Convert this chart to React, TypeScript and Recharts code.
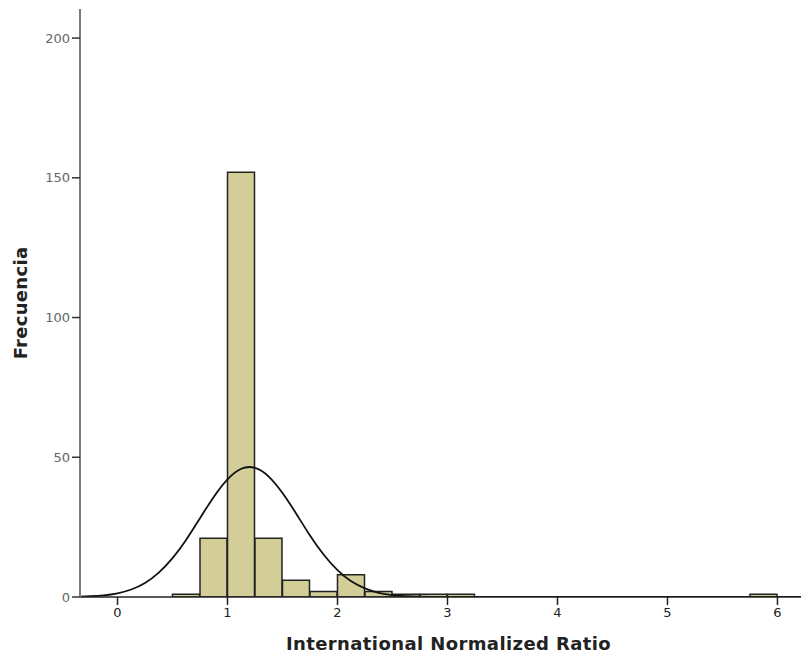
import { ComposedChart, Bar, Line, XAxis, YAxis } from "recharts";

// histogram bins (INR, width 0.25) and their counts
const binStart = [0.5, 0.75, 1.0, 1.25, 1.5, 1.75, 2.0, 2.25, 2.5, 2.75, 3.0, 5.75];
const binCount = [1, 21, 152, 21, 6, 2, 8, 2, 1, 1, 1, 1];
const binWidth = 0.25;

// fitted normal curve
const curveX = [
  -0.375, -0.25, -0.125, 0, 0.125, 0.25, 0.375, 0.5, 0.625, 0.75, 0.875, 1.0, 1.125, 1.25,
  1.375, 1.5, 1.625, 1.75, 1.875, 2.0, 2.125, 2.25, 2.375, 2.5, 2.625, 2.75, 3.0, 3.5, 6.25,
];
const curveY = [
  0.1, 0.26, 0.61, 1.33, 2.68, 5.0, 8.7, 13.9, 20.5, 28.2, 35.8, 42.1, 45.9, 46.2,
  43.1, 37.2, 29.8, 22.0, 15.1, 9.6, 5.6, 3.1, 1.5, 0.7, 0.3, 0.12, 0.02, 0, 0,
];

const xTicks = [0, 1, 2, 3, 4, 5, 6];
const yTicks = [0, 50, 100, 150, 200];

const bins = binStart.map((s, i) => ({ x: s + binWidth / 2, count: binCount[i] }));
const curve = curveX.map((x, i) => ({ x, density: curveY[i] }));

const font = "'DejaVu Sans', Verdana, sans-serif";
const xDomain = [-0.341, 6.214];

export default function App() {
  return (
    <div style={{ position: "absolute", left: 0, top: 0, background: "#fff" }}>
      <ComposedChart
        width={801}
        height={656}
        data={bins}
        margin={{ top: 9, right: 0, bottom: 0, left: 0 }}
        barCategoryGap={0}
        barGap={0}
      >
        <XAxis
          dataKey="x"
          type="number"
          domain={xDomain}
          allowDataOverflow
          ticks={xTicks}
          height={59}
          tickSize={8}
          tickMargin={3}
          axisLine={{ stroke: "#222", strokeWidth: 1.5 }}
          tickLine={{ stroke: "#222", strokeWidth: 1.5 }}
          tick={{ fill: "#222", fontSize: 13, fontFamily: font }}
          label={{
            content: ({ viewBox }: any) => (
              <text
                x={viewBox.x + viewBox.width / 2 + 8}
                y={viewBox.y + 53}
                textAnchor="middle"
                fontFamily={font}
                fontWeight="bold"
                fontSize={18}
                letterSpacing={0.4}
                fill="#222"
              >
                International Normalized Ratio
              </text>
            ),
          }}
        />
        {/* top frame line; also the axis the bars sit on so the band is one bin wide */}
        <XAxis
          xAxisId="top"
          orientation="top"
          type="number"
          dataKey="x"
          domain={xDomain}
          allowDataOverflow
          height={0}
          tick={false}
          tickLine={false}
          axisLine={{ stroke: "#888", strokeWidth: 2 }}
        />
        <YAxis
          type="number"
          domain={[0, 210.4]}
          allowDataOverflow
          ticks={yTicks}
          width={80}
          tickSize={8}
          tickMargin={2}
          axisLine={{ stroke: "#7a7a7a", strokeWidth: 2 }}
          tickLine={{ stroke: "#333", strokeWidth: 1.5 }}
          tick={{ fill: "#666", fontSize: 13, fontFamily: font }}
          label={{
            content: ({ viewBox }: any) => {
              const cx = viewBox.x + 20;
              const cy = viewBox.y + viewBox.height / 2;
              return (
                <text
                  x={cx}
                  y={cy}
                  transform={`rotate(-90 ${cx} ${cy})`}
                  textAnchor="middle"
                  dominantBaseline="central"
                  fontFamily={font}
                  fontWeight="bold"
                  fontSize={18}
                  letterSpacing={0.3}
                  fill="#222"
                >
                  Frecuencia
                </text>
              );
            },
          }}
        />
        <Bar
          xAxisId="top"
          dataKey="count"
          fill="#d3cd97"
          stroke="#222"
          strokeWidth={1.5}
          isAnimationActive={false}
        />
        <Line
          data={curve}
          dataKey="density"
          type="natural"
          stroke="#111"
          strokeWidth={1.8}
          dot={false}
          activeDot={false}
          isAnimationActive={false}
        />
      </ComposedChart>
    </div>
  );
}
